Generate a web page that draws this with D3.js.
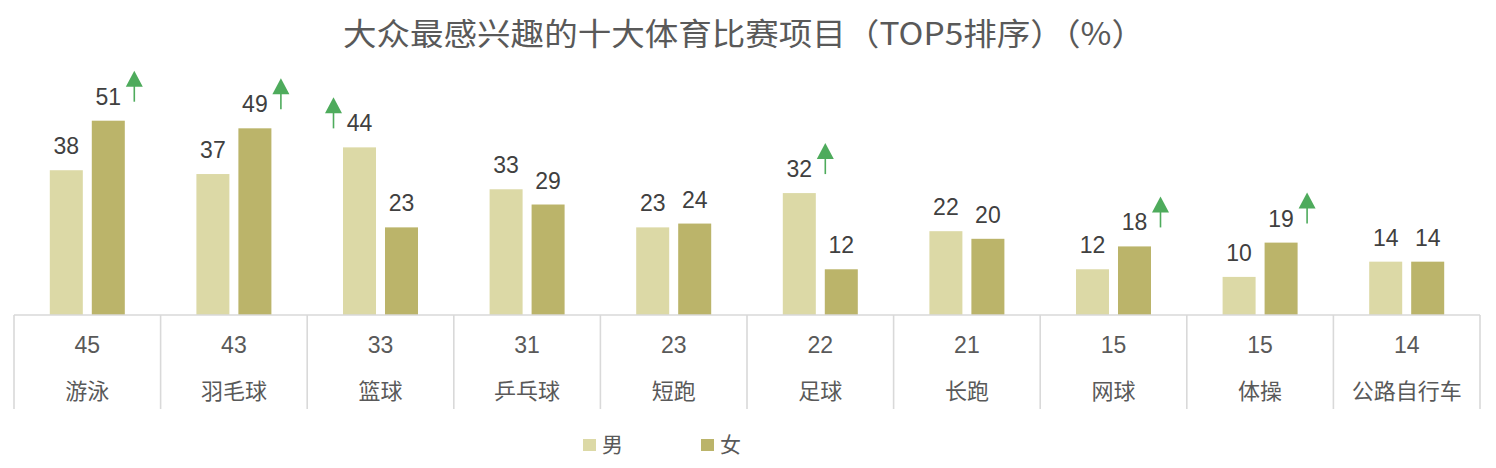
<!DOCTYPE html>
<html><head><meta charset="utf-8">
<script src="https://cdn.jsdelivr.net/npm/d3@7"></script>
<style>body{margin:0;background:#fff}svg{display:block}</style>
</head><body>
<svg id="c" width="1496" height="468"></svg>
<script>
const title = "大众最感兴趣的十大体育比赛项目（TOP5排序）（%）";
const categories = ["游泳","羽毛球","篮球","乒乓球","短跑","足球","长跑","网球","体操","公路自行车"];
const seriesNames = ["男","女"];
const male = [38,37,44,33,23,32,22,12,10,14];
const female = [51,49,23,29,24,12,20,18,19,14];
const totals = [45,43,33,31,23,22,21,15,15,14];
// arrows: [category index, series index, side (+1 right of label, -1 left)]
const arrows = [[0,1,1],[1,1,1],[2,0,-1],[5,0,1],[7,1,1],[8,1,1]];

const colors = ["#dcd9a6","#bbb46a"];
const textCol = "#404040", tableCol = "#595959", lineCol = "#d9d9d9", green = "#4eab5c";
const svg = d3.select("#c");
const font = "'Liberation Sans', Arial, 'Noto Sans CJK SC', sans-serif";

const x = d3.scaleBand().domain(categories).range([14,1480]).padding(0);
const y = d3.scaleLinear().domain([0,51]).range([315,315-194.3]);
const inner = d3.scaleBand().domain([0,1]).range([-37.5, 37.5]).paddingInner(0.214);

svg.append("text").attr("x",744).attr("y",45).attr("text-anchor","middle")
  .attr("font-family","'Noto Sans CJK SC', sans-serif").attr("font-size",31)
  .attr("fill","#595959").attr("textLength",802).attr("lengthAdjust","spacingAndGlyphs")
  .text(title);

const data = [male,female];
const g = svg.append("g");
categories.forEach((c,i)=>{
  const cx = x(c)+x.bandwidth()/2;
  data.forEach((arr,s)=>{
    const bx = cx + inner(s);
    g.append("rect").attr("x",bx).attr("width",inner.bandwidth())
      .attr("y",y(arr[i])).attr("height",y(0)-y(arr[i])).attr("fill",colors[s]);
    g.append("text").attr("x",bx+inner.bandwidth()/2).attr("y",y(arr[i])-16)
      .attr("text-anchor","middle").attr("font-family",font).attr("font-size",23)
      .attr("fill",textCol).text(arr[i]);
  });
});

arrows.forEach(([ci,s,side])=>{
  const cx = x(categories[ci])+x.bandwidth()/2 + inner(s) + inner.bandwidth()/2 + side*26;
  const v = data[s][ci];
  const bottom = y(v) - 19;
  const top = bottom - 31;
  svg.append("line").attr("x1",cx).attr("x2",cx).attr("y1",top+14).attr("y2",bottom)
    .attr("stroke",green).attr("stroke-width",1.6);
  svg.append("path").attr("d",`M${cx},${top} L${cx+8.5},${top+16} L${cx-8.5},${top+16} Z`).attr("fill",green);
});

// table
const t = svg.append("g");
t.append("line").attr("x1",14).attr("x2",1480).attr("y1",315).attr("y2",315)
  .attr("stroke",lineCol).attr("stroke-width",1.6);
d3.range(categories.length+1).forEach(i=>{
  const xx = i<categories.length ? x(categories[i]) : x.range()[1];
  t.append("line").attr("x1",xx).attr("x2",xx).attr("y1",315).attr("y2",409)
    .attr("stroke",lineCol).attr("stroke-width",1.6);
});
categories.forEach((c,i)=>{
  const cx = x(c)+x.bandwidth()/2;
  t.append("text").attr("x",cx).attr("y",353).attr("text-anchor","middle")
    .attr("font-family",font).attr("font-size",23).attr("fill",tableCol).text(totals[i]);
  t.append("text").attr("x",cx).attr("y",399).attr("text-anchor","middle")
    .attr("font-family","'Noto Sans CJK SC', sans-serif").attr("font-size",22).attr("fill",tableCol).text(c);
});

// legend
const lx = [583,701];
seriesNames.forEach((n,s)=>{
  svg.append("rect").attr("x",lx[s]).attr("y",439).attr("width",13).attr("height",12).attr("fill",colors[s]);
  svg.append("text").attr("x",lx[s]+19).attr("y",452).attr("font-family","'Noto Sans CJK SC', sans-serif")
    .attr("font-size",21).attr("fill",tableCol).text(n);
});
</script>
</body></html>
